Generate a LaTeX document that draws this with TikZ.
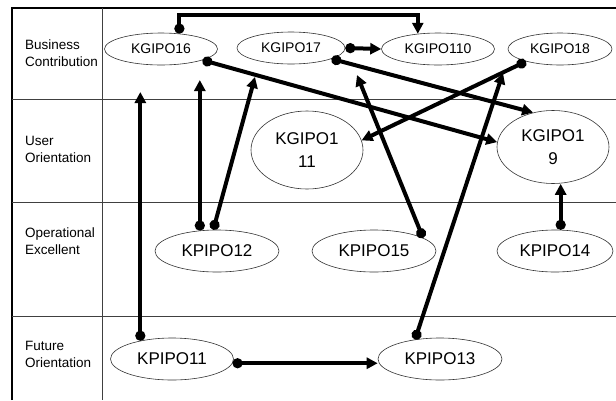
\documentclass[tikz,border=0pt]{standalone}
\usepackage{fontspec}
\setmainfont{Liberation Sans}
\usepackage{tikz}
\usetikzlibrary{shapes,
	arrows.meta}
\tikzstyle{grid}=[line width=0.9pt, draw=black!75]
\tikzstyle{lane}=[anchor=west, align=left, inner sep=0, font=\fontsize{13.5}{17}\selectfont]
\tikzstyle{kg}=[draw=black!80, line width=0.6pt, ellipse, inner sep=0, minimum width=113pt,
		minimum height=32pt, font=\fontsize{14}{16}\selectfont]
\tikzstyle{kp}=[kg, minimum width=124pt, minimum height=42pt, font=\fontsize{17}{20}\selectfont]
\tikzstyle{kb}=[kp, align=center, minimum width=112pt, minimum height=78pt, font=\fontsize{17}{23}\selectfont]
\tikzstyle{link}=[line width=4pt, {Circle[length=10pt]}-{Triangle[length=11pt,width=11pt]}]

\begin{document}
\begin{tikzpicture}[x=1pt,y=-1pt]
                \useasboundingbox (0,0) rectangle (616,400);
                \draw[grid, draw=black, line width=1.4pt] (12,400) -- (12,8) -- (616,8);
                \draw[grid] (102,8) -- (102,400);
                \draw[grid] (12,99) -- (616,99);
                \draw[grid] (12,202) -- (616,202);
                \draw[grid] (12,316) -- (616,316);
                \node[lane] (bc) at (25,53) {Business\\Contribution};
                \node[lane] (uo) at (25,149) {User\\Orientation};
                \node[lane] (oe) at (25,241) {Operational\\Excellent};
                \node[lane] (fo) at (25,354) {Future\\Orientation};
                \node[kg] (k16) at (161,49) {KGIPO16};
                \node[kg, minimum width=108pt] (k17) at (291,48) {KGIPO17};
                \node[kg] (k110) at (438,49) {KGIPO110};
                \node[kg, minimum width=104pt] (k18) at (560,49) {KGIPO18};
                \node[kb] (k111) at (307,150) {KGIPO1\\11};
                \node[kb, minimum height=73pt] (k19) at (553,147) {KGIPO1\\9};
                \node[kp] (p12) at (217,251) {KPIPO12};
                \node[kp] (p15) at (374,251) {KPIPO15};
                \node[kp, minimum width=116pt] (p14) at (555,251) {KPIPO14};
                \node[kp, minimum width=123pt] (p11) at (172,359) {KPIPO11};
                \node[kp] (p13) at (440,359) {KPIPO13};
                \coordinate (top) at (0,15);
                \coordinate (e11) at (140,92);
                \coordinate (e12) at (202,80);
                \coordinate (e12b) at (255,77);
                \coordinate (e15) at (357,75);
                \coordinate (e13) at (503,73);
                \draw[link] (k16.40) -- (k16.40 |- top) -| (k110.143);
                \draw[link] (k17.east) -- (k110.west);
                \draw[link] (k17.-15) -- (k19.120);
                \draw[link] (k16.-15) -- (k19.175);
                \draw[link] (k18.200) -- (k111.10);
                \draw[link] (p14.75) -- (p14.75 |- k19.south);
                \draw[link] (p11.150) -- (p11.150 |- e11);
                \draw[link] (p12.130) -- (p12.130 |- e12);
                \draw[link] (p12.100) -- (e12b);
                \draw[link] (p15.15) -- (e15);
                \draw[link] (p13.142) -- (e13);
                \draw[link] (p11.-4) -- (p11.-4 -| p13.west);
            \end{tikzpicture}
\end{document}
